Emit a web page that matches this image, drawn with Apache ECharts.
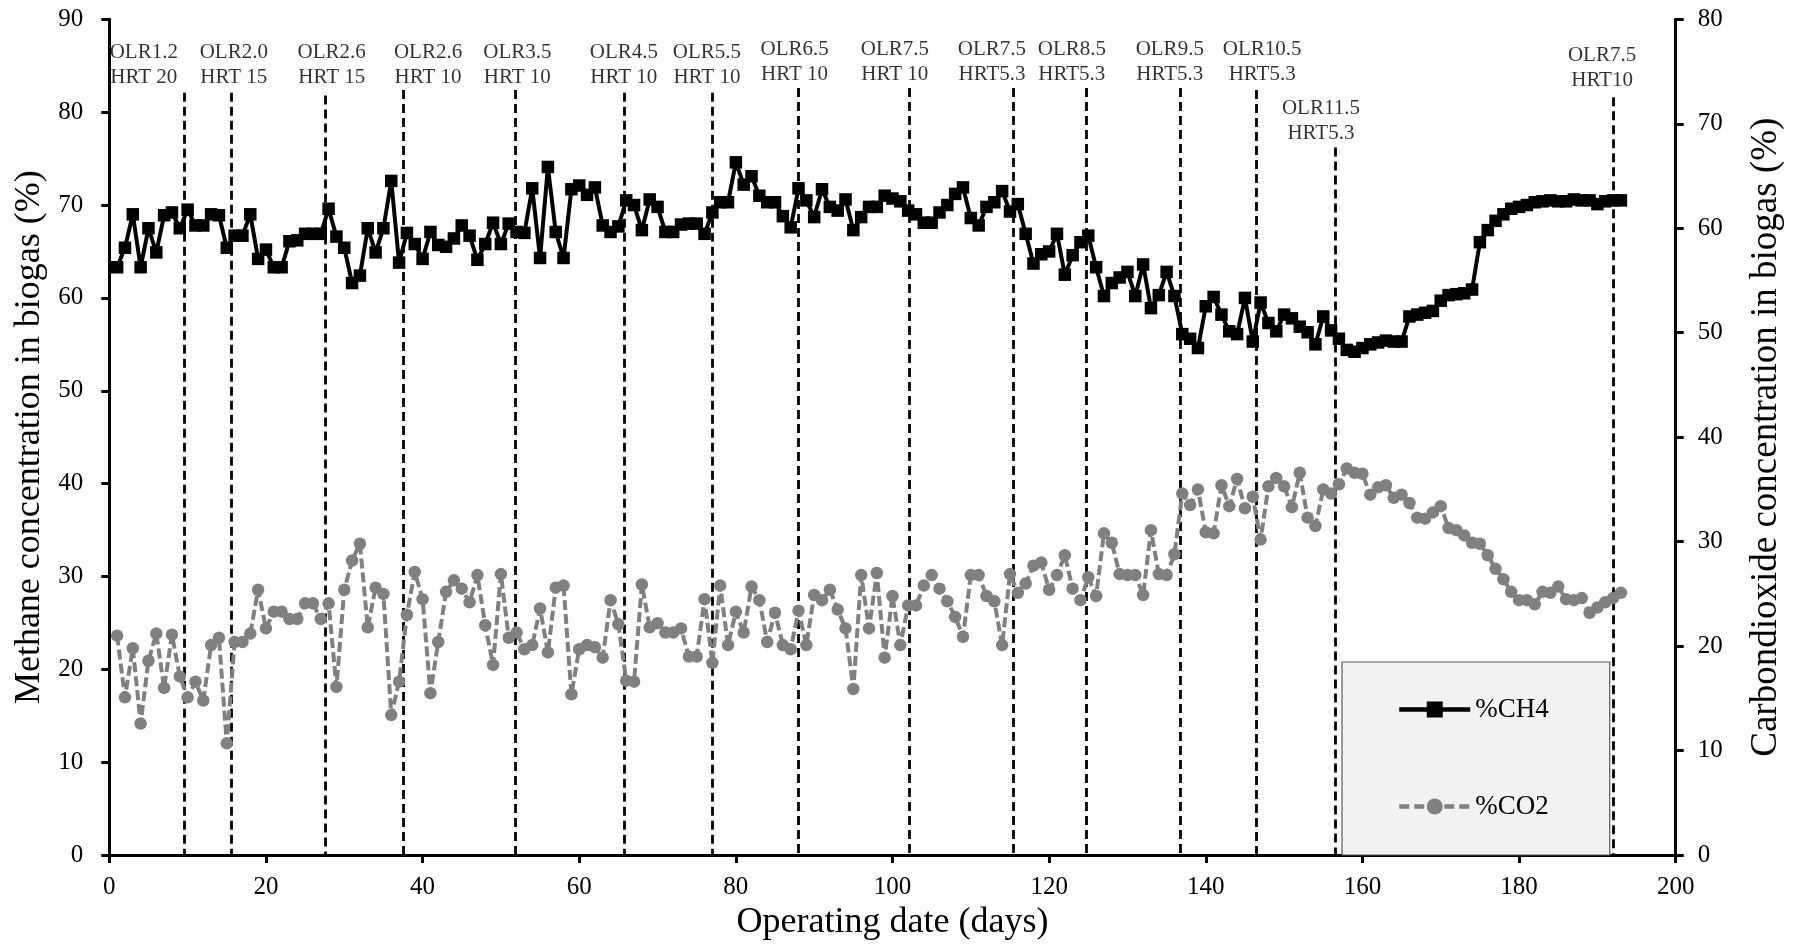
<!DOCTYPE html>
<html><head><meta charset="utf-8">
<script src="https://cdn.jsdelivr.net/npm/echarts@6/dist/echarts.min.js"></script>
<style>html,body{margin:0;padding:0;background:#fff}#c{width:1794px;height:946px}</style>
</head><body><div id="c"></div>
<script>
const days = [1,2,3,4,5,6,7,8,9,10,11,12,13,14,15,16,17,18,19,20,21,22,23,24,25,26,27,28,29,30,31,32,33,34,35,36,37,38,39,40,41,42,43,44,45,46,47,48,49,50,51,52,53,54,55,56,57,58,59,60,61,62,63,64,65,66,67,68,69,70,71,72,73,74,75,76,77,78,79,80,81,82,83,84,85,86,87,88,89,90,91,92,93,94,95,96,97,98,99,100,101,102,103,104,105,106,107,108,109,110,111,112,113,114,115,116,117,118,119,120,121,122,123,124,125,126,127,128,129,130,131,132,133,134,135,136,137,138,139,140,141,142,143,144,145,146,147,148,149,150,151,152,153,154,155,156,157,158,159,160,161,162,163,164,165,166,167,168,169,170,171,172,173,174,175,176,177,178,179,180,181,182,183,184,185,186,187,188,189,190,191,192,193];

const ch4 = [
63.3,65.4,69.0,63.3,67.5,64.9,68.9,69.2,67.5,69.5,
67.8,67.8,69.0,68.9,65.4,66.7,66.7,69.0,64.2,65.2,
63.3,63.3,66.1,66.2,66.9,66.9,66.9,69.6,66.6,65.4,
61.6,62.4,67.5,64.9,67.5,72.6,63.8,67.0,65.8,64.2,
67.1,65.7,65.5,66.4,67.8,66.7,64.1,65.8,68.1,65.8,
68.0,67.1,67.0,71.8,64.3,74.1,67.1,64.3,71.7,72.1,
71.1,71.9,67.8,67.1,67.7,70.5,70.0,67.3,70.6,69.8,
67.1,67.1,67.9,68.0,68.0,66.9,69.2,70.3,70.3,74.6,
72.2,73.1,71.0,70.3,70.3,68.8,67.6,71.8,70.5,68.7,
71.7,69.8,69.4,70.6,67.3,68.7,69.8,69.8,71.0,70.7,
70.4,69.4,69.0,68.1,68.1,69.2,70.0,71.2,71.9,68.6,
67.8,69.8,70.3,71.5,69.3,70.1,66.9,63.7,64.7,65.0,
66.9,62.5,64.6,66.0,66.7,63.3,60.2,61.6,62.2,62.8,
60.2,63.6,58.9,60.3,62.8,60.2,56.1,55.6,54.6,59.1,
60.1,58.2,56.4,56.1,60.0,55.3,59.5,57.3,56.4,58.2,
57.8,56.9,56.3,55.0,58.0,56.5,55.6,54.4,54.2,54.6,
55.0,55.2,55.4,55.3,55.3,58.0,58.2,58.4,58.6,59.7,
60.3,60.4,60.5,60.9,66.0,67.3,68.3,69.0,69.6,69.8,
70.0,70.3,70.4,70.5,70.4,70.4,70.6,70.5,70.5,70.1,
70.4,70.5,70.5];

const co2 = [
21.0,15.1,19.8,12.6,18.6,21.2,16.0,21.1,17.1,15.1,
16.6,14.8,20.1,20.8,10.7,20.4,20.4,21.2,25.4,21.7,
23.3,23.3,22.6,22.6,24.1,24.1,22.6,24.1,16.1,25.4,
28.2,29.8,21.8,25.6,25.0,13.4,16.6,23.0,27.1,24.5,
15.5,20.4,25.2,26.3,25.5,24.2,26.8,22.0,18.2,26.9,
20.8,21.3,19.7,20.1,23.6,19.4,25.6,25.8,15.4,19.7,
20.1,19.9,18.9,24.4,22.1,16.7,16.6,25.9,21.8,22.2,
21.3,21.3,21.7,19.0,19.0,24.5,18.4,25.8,20.1,23.3,
21.3,25.7,24.4,20.4,23.2,20.1,19.7,23.4,20.1,24.9,
24.4,25.4,23.5,21.7,15.9,26.8,21.7,27.0,18.9,24.8,
20.1,23.9,23.9,25.8,26.8,25.5,24.3,22.8,20.9,26.8,
26.8,24.8,24.3,20.1,26.9,25.1,26.0,27.7,28.0,25.4,
26.8,28.7,25.5,24.4,26.6,24.8,30.8,29.9,26.9,26.8,
26.8,24.9,31.1,26.9,26.8,28.8,34.6,33.5,35.0,30.9,
30.8,35.4,33.4,36.0,33.2,34.3,30.2,35.3,36.1,35.3,
33.3,36.6,32.3,31.5,35.0,34.6,35.5,37.0,36.6,36.5,
34.5,35.2,35.4,34.2,34.5,33.7,32.3,32.2,32.8,33.4,
31.3,31.1,30.6,29.9,29.8,28.7,27.4,26.4,25.2,24.4,
24.4,24.0,25.2,25.1,25.7,24.5,24.4,24.6,23.2,23.7,
24.2,24.6,25.1];

const phaseLineDays = [9.6,15.6,27.6,37.5,51.8,65.7,77,88,102.1,115.4,124.7,136.7,146.5,156.5,192];
const phaseLineTops = [82.1,82.1,81.8,82.4,82.4,82.1,82.1,82.6,82.6,82.6,82.6,82.6,82.4,76.2,81.6];

const phaseLabels = ['OLR1.2\nHRT 20','OLR2.0\nHRT 15','OLR2.6\nHRT 15','OLR2.6\nHRT 10','OLR3.5\nHRT 10','OLR4.5\nHRT 10','OLR5.5\nHRT 10','OLR6.5\nHRT 10','OLR7.5\nHRT 10','OLR7.5\nHRT5.3','OLR8.5\nHRT5.3','OLR9.5\nHRT5.3','OLR10.5\nHRT5.3','OLR11.5\nHRT5.3','OLR7.5\nHRT10'];
const phaseLabelDays = [4.4,15.9,28.4,40.7,52.1,65.7,76.3,87.5,100.3,112.7,122.9,135.4,147.2,154.7,190.6];
const phaseLabelLevels = [85.1,85.1,85.1,85.1,85.1,85.1,85.1,85.45,85.45,85.45,85.45,85.45,85.45,79.1,84.8];

const FONT = 'Liberation Serif';
const chart = echarts.init(document.getElementById('c'), null, {renderer:'canvas'});

const axisCommon = {
  axisLine:{show:true, onZero:false, lineStyle:{color:'#000', width:3}},
  axisTick:{show:true, length:8, lineStyle:{color:'#000', width:3}},
  splitLine:{show:false},
  nameTextStyle:{fontFamily:FONT, fontSize:36, color:'#000'}
};

chart.setOption({
  animation:false,
  backgroundColor:'#fff',
  textStyle:{fontFamily:FONT},
  grid:{left:109.3, right:118.3, top:19.3, bottom:87.2, containLabel:false},
  legend:{
    data:[
      {name:'%CH4', lineStyle:{width:4.5, color:'#000'}},
      {name:'%CO2', lineStyle:{width:4.5, color:'#808080', type:[10,5]}}
    ],
    orient:'vertical',
    left:1342, top:662,
    backgroundColor:'#f2f2f2', borderColor:'#595959', borderWidth:1.2, borderRadius:0,
    padding:[32,61,33,55],
    itemGap:66, itemWidth:71, itemHeight:20,
    textStyle:{fontFamily:FONT, fontSize:27, color:'#000', lineHeight:31},
    selectedMode:false
  },
  xAxis:Object.assign({}, axisCommon, {
    type:'value', min:0, max:200, interval:20,
    name:'Operating date (days)', nameLocation:'middle', nameGap:40,
    axisLabel:{fontFamily:FONT, fontSize:25, color:'#000', margin:20}
  }),
  yAxis:[
    Object.assign({}, axisCommon, {
      type:'value', min:0, max:90, interval:10, position:'left',
      name:'Methane concentration in biogas (%)', nameLocation:'middle', nameGap:52, nameRotate:90,
      axisLabel:{fontFamily:FONT, fontSize:25, color:'#000', margin:26}
    }),
    Object.assign({}, axisCommon, {
      type:'value', min:0, max:80, interval:10, position:'right',
      name:'Carbondioxide concentration in biogas (%)', nameLocation:'middle', nameGap:72, nameRotate:90,
      nameTextStyle:{fontFamily:FONT, fontSize:37, color:'#000'},
      axisLabel:{fontFamily:FONT, fontSize:25, color:'#000', margin:22}
    })
  ],
  series:[
    {
      type:'lines', coordinateSystem:'cartesian2d', xAxisIndex:0, yAxisIndex:0, z:1, silent:true,
      lineStyle:{color:'#000', width:2.8, type:[9,5], opacity:1, curveness:0},
      data:phaseLineDays.map((d,i)=>({coords:[[d, phaseLineTops[i]],[d,0]]}))
    },
    {
      name:'%CO2', type:'line', xAxisIndex:0, yAxisIndex:1, z:2,
      data:days.map((d,i)=>[d, co2[i]]),
      symbol:'circle', symbolSize:12.5, showAllSymbol:true,
      lineStyle:{color:'#808080', width:4, type:[10,4]},
      itemStyle:{color:'#808080'}
    },
    {
      name:'%CH4', type:'line', xAxisIndex:0, yAxisIndex:0, z:3,
      data:days.map((d,i)=>[d, ch4[i]]),
      symbol:'rect', symbolSize:12.5, showAllSymbol:true,
      lineStyle:{color:'#000', width:4},
      itemStyle:{color:'#000'}
    },
    {
      type:'scatter', xAxisIndex:0, yAxisIndex:0, z:4, silent:true,
      symbol:'circle', symbolSize:1, itemStyle:{color:'rgba(0,0,0,0)'},
      label:{show:true, position:'inside', formatter:'{b}', fontFamily:FONT, fontSize:21, lineHeight:25, color:'#000', align:'center', verticalAlign:'middle'},
      data:phaseLabels.map((t,i)=>({name:t, value:[phaseLabelDays[i], phaseLabelLevels[i]]}))
    }
  ]
});
</script></body></html>
